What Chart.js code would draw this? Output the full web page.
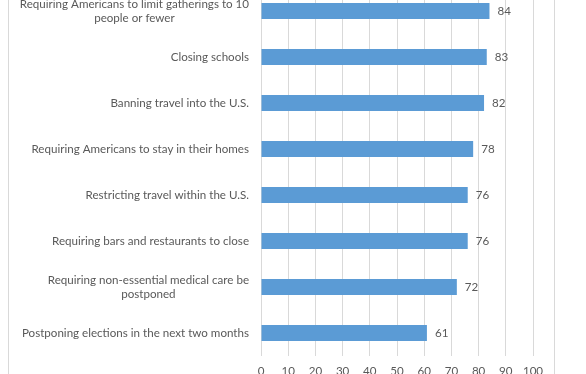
<!DOCTYPE html>
<html>
<head>
<meta charset="utf-8">
<script src="https://cdn.jsdelivr.net/npm/chart.js@4/dist/chart.umd.min.js"></script>
<style>
  html, body { margin: 0; padding: 0; background: #fff; overflow: hidden; }
  body { width: 586px; height: 374px; position: relative; }
  #frame {
    position: absolute; left: 8px; top: -31px;
    width: 547px; height: 430px;
    border: 1px solid #d9d9d9; box-sizing: border-box;
  }
  #grafico { display: block; }
</style>
</head>
<body>
<div id="frame"><canvas id="grafico" width="545" height="428"></canvas></div>
<script>
// categorias e valores
var categorias = [
  ['Requiring Americans to limit gatherings to 10', 'people or fewer'],
  'Closing schools',
  'Banning travel into the U.S.',
  'Requiring Americans to stay in their homes',
  'Restricting travel within the U.S.',
  'Requiring bars and restaurants to close',
  ['Requiring non-essential medical care be', 'postponed'],
  'Postponing elections in the next two months'
];
var valores = [84, 83, 82, 78, 76, 76, 72, 61];
var ticksX = [0, 10, 20, 30, 40, 50, 60, 70, 80, 90, 100];

var cinza = '#595959';
var familia = 'Lato, "Open Sans", sans-serif';
var fonte = { family: familia, size: 11.6 };

/* Escreve o valor ao lado de cada barra e os nomes das categorias
   (linhas centralizadas entre si, bloco alinhado a direita). */
var rotulos = {
  id: 'rotulos',
  afterDatasetsDraw: function(chart) {
    var ctx = chart.ctx;
    var meta = chart.getDatasetMeta(0);
    var escalaY = chart.scales.y;
    ctx.save();
    ctx.font = fonte.size + 'px ' + familia;
    ctx.fillStyle = cinza;
    ctx.textBaseline = 'middle';
    ctx.textAlign = 'left';
    meta.data.forEach(function(barra, i) {
      ctx.fillText(valores[i], barra.x + 8, barra.y);
    });
    var direita = chart.chartArea.left - 12;
    var alturaLinha = 14;
    categorias.forEach(function(cat, i) {
      var linhas = Array.isArray(cat) ? cat : [cat];
      var largura = Math.max.apply(null, linhas.map(function(l) { return ctx.measureText(l).width; }));
      var cx = direita - largura / 2;
      var y0 = escalaY.getPixelForValue(i) - (linhas.length - 1) * alturaLinha / 2;
      ctx.textAlign = 'center';
      linhas.forEach(function(l, k) {
        ctx.fillText(l, cx, y0 + k * alturaLinha);
      });
    });
    ctx.restore();
  }
};

var ctx = document.getElementById('grafico').getContext('2d');
new Chart(ctx, {
  type: 'bar',
  data: {
    labels: categorias,
    datasets: [{
      data: valores,
      backgroundColor: '#5b9bd5',
      barPercentage: 0.35,
      categoryPercentage: 1
    }]
  },
  options: {
    indexAxis: 'y',
    responsive: false,
    animation: false,
    layout: { padding: { top: 18, right: 21, left: 0, bottom: 0 } },
    plugins: { legend: { display: false }, tooltip: { enabled: false } },
    scales: {
      x: {
        min: 0, max: 100,
        afterFit: function(s) { s.height = 42; },
        afterBuildTicks: function(s) { s.ticks = ticksX.map(function(v) { return { value: v }; }); },
        grid: { color: '#d9d9d9', drawTicks: false },
        border: { display: false },
        ticks: { color: cinza, font: fonte, padding: 8, maxRotation: 0 }
      },
      y: {
        afterFit: function(s) { s.width = 252; },
        grid: { display: false, drawTicks: false },
        border: { display: false },
        ticks: { display: false }
      }
    }
  },
  plugins: [rotulos]
});
</script>
</body>
</html>
